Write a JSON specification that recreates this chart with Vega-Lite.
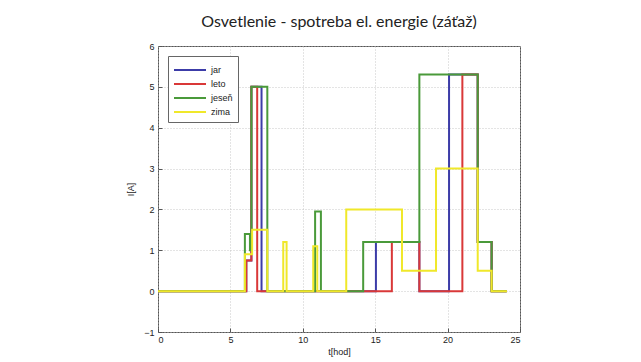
{
  "$schema": "https://vega.github.io/schema/vega-lite/v6.json",
  "width": 362,
  "height": 286,
  "autosize": {"type": "none"},
  "padding": {"left": 158, "top": 46, "right": 121, "bottom": 30},
  "background": "white",
  "title": {
    "text": "Osvetlenie - spotreba el. energie (záťaž)",
    "font": "Lato",
    "fontSize": 16,
    "fontWeight": "normal",
    "color": "#222222",
    "offset": 12,
    "anchor": "middle"
  },
  "data": {
    "values": [
      {"s": "jar", "t": 0, "I": 0},
      {"s": "jar", "t": 6.1, "I": 0.75},
      {"s": "jar", "t": 6.45, "I": 5},
      {"s": "jar", "t": 7.15, "I": 0},
      {"s": "jar", "t": 15.05, "I": 1.2},
      {"s": "jar", "t": 18.05, "I": 0},
      {"s": "jar", "t": 20.1, "I": 5.3},
      {"s": "jar", "t": 22.08, "I": 1.2},
      {"s": "jar", "t": 23.04, "I": 0},
      {"s": "jar", "t": 24.08, "I": 0},
      {"s": "leto", "t": 0, "I": 0},
      {"s": "leto", "t": 6.1, "I": 0.75},
      {"s": "leto", "t": 6.45, "I": 5},
      {"s": "leto", "t": 6.85, "I": 0},
      {"s": "leto", "t": 16.15, "I": 1.2},
      {"s": "leto", "t": 18.05, "I": 0},
      {"s": "leto", "t": 21.02, "I": 5.3},
      {"s": "leto", "t": 22.08, "I": 1.2},
      {"s": "leto", "t": 23.04, "I": 0},
      {"s": "leto", "t": 24.08, "I": 0},
      {"s": "jeseň", "t": 0, "I": 0},
      {"s": "jeseň", "t": 6.0, "I": 1.4},
      {"s": "jeseň", "t": 6.35, "I": 1.0},
      {"s": "jeseň", "t": 6.45, "I": 5},
      {"s": "jeseň", "t": 7.55, "I": 0},
      {"s": "jeseň", "t": 10.85, "I": 1.95},
      {"s": "jeseň", "t": 11.25, "I": 0},
      {"s": "jeseň", "t": 14.17, "I": 1.2},
      {"s": "jeseň", "t": 18.05, "I": 5.3},
      {"s": "jeseň", "t": 22.08, "I": 1.2},
      {"s": "jeseň", "t": 23.04, "I": 0},
      {"s": "jeseň", "t": 24.08, "I": 0},
      {"s": "zima", "t": 0, "I": 0},
      {"s": "zima", "t": 6.0, "I": 0.9},
      {"s": "zima", "t": 6.5, "I": 1.5},
      {"s": "zima", "t": 7.55, "I": 0},
      {"s": "zima", "t": 8.65, "I": 1.2},
      {"s": "zima", "t": 8.88, "I": 0},
      {"s": "zima", "t": 10.72, "I": 1.1},
      {"s": "zima", "t": 11.0, "I": 0},
      {"s": "zima", "t": 13.0, "I": 2.0},
      {"s": "zima", "t": 16.85, "I": 0.5},
      {"s": "zima", "t": 19.2, "I": 3.0},
      {"s": "zima", "t": 22.08, "I": 0.5},
      {"s": "zima", "t": 23.04, "I": 0},
      {"s": "zima", "t": 24.1, "I": 0}
    ]
  },
  "mark": {"type": "line", "interpolate": "step-after", "strokeWidth": 2},
  "encoding": {
    "x": {
      "field": "t",
      "type": "quantitative",
      "scale": {"domain": [0, 25], "nice": false, "zero": false},
      "axis": {"values": [0, 5, 10, 15, 20, 25], "title": "t[hod]"}
    },
    "y": {
      "field": "I",
      "type": "quantitative",
      "scale": {"domain": [-1, 6], "nice": false, "zero": false},
      "axis": {"values": [-1, 0, 1, 2, 3, 4, 5, 6], "title": "I[A]"}
    },
    "color": {
      "field": "s",
      "type": "nominal",
      "sort": ["jar", "leto", "jeseň", "zima"],
      "scale": {
        "domain": ["jar", "leto", "jeseň", "zima"],
        "range": ["#3c3ca8", "#d93838", "#4a9a3a", "#f0e82a"]
      },
      "legend": {
        "title": null,
        "orient": "top-left",
        "offset": 10,
        "symbolType": "M-1,0H3",
        "symbolSize": 256,
        "symbolStrokeWidth": 2,
        "labelOffset": 20,
        "labelFont": "Liberation Sans",
        "labelFontSize": 9,
        "labelColor": "#222222",
        "rowPadding": 0,
        "padding": 5,
        "fillColor": "white",
        "strokeColor": "#666666"
      }
    }
  },
  "config": {
    "view": {"stroke": "#555555", "strokeWidth": 1},
    "axis": {
      "domain": false,
      "grid": true,
      "gridColor": "#bbbbbb",
      "gridDash": [1, 2],
      "gridOpacity": 0.8,
      "tickSize": -4,
      "tickColor": "#555555",
      "labelFont": "Liberation Sans",
      "labelFontSize": 9,
      "labelColor": "#222222",
      "titleFont": "Liberation Sans",
      "titleFontSize": 9,
      "titleFontWeight": "normal",
      "titleColor": "#222222"
    },
    "axisX": {"labelPadding": 7, "titlePadding": 3},
    "axisY": {"labelPadding": 8, "titlePadding": 8}
  }
}
